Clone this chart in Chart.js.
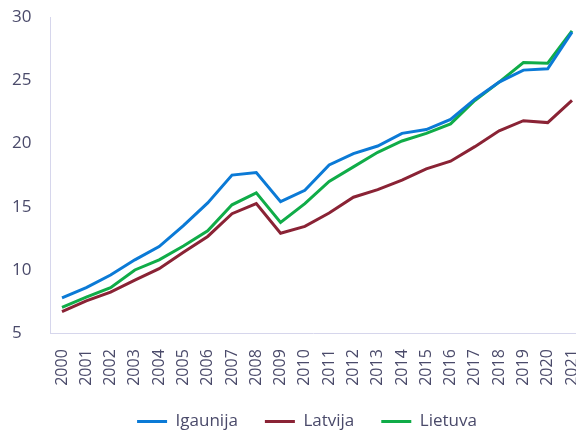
<!DOCTYPE html>
<html>
<head>
<meta charset="utf-8">
<script src="https://cdn.jsdelivr.net/npm/chart.js@4"></script>
<style>
  html, body { margin: 0; padding: 0; background: #ffffff; }
  #wrap { width: 576px; height: 431px; position: relative; }
</style>
</head>
<body>
<div id="wrap"><canvas id="c" width="576" height="431"></canvas></div>
<script>
const years = [2000, 2001, 2002, 2003, 2004, 2005, 2006, 2007, 2008, 2009, 2010,
               2011, 2012, 2013, 2014, 2015, 2016, 2017, 2018, 2019, 2020, 2021];
const igaunija = [7.8, 8.6, 9.6, 10.8, 11.85, 13.5, 15.3, 17.5, 17.7, 15.4, 16.3,
                  18.3, 19.2, 19.8, 20.8, 21.1, 21.9, 23.5, 24.85, 25.8, 25.9, 28.8];
const latvija = [6.7, 7.55, 8.25, 9.2, 10.1, 11.4, 12.65, 14.45, 15.25, 12.9, 13.45,
                 14.5, 15.75, 16.35, 17.1, 18.0, 18.6, 19.75, 21.0, 21.8, 21.65, 23.4];
const lietuva = [7.05, 7.85, 8.6, 10.0, 10.8, 11.9, 13.1, 15.15, 16.1, 13.75, 15.25,
                 17.0, 18.15, 19.3, 20.2, 20.8, 21.55, 23.4, 24.85, 26.4, 26.35, 28.9];
const seriesNames = ['Igaunija', 'Latvija', 'Lietuva'];
const yTicks = [5, 10, 15, 20, 25, 30];

const colors = ['#0b7ad6', '#8a2335', '#10ac48'];
const toPts = arr => years.map((y, i) => ({ x: y, y: arr[i] }));

const textColor = '#4a4a6a';
const axisColor = '#d6d6ec';

const legendShift = {
  id: 'legendShift',
  afterLayout(chart) {
    const l = chart.legend;
    if (l) { l.left += 13; l.right += 13; }
  }
};

new Chart(document.getElementById('c'), {
  type: 'line',
  data: {
    datasets: [igaunija, latvija, lietuva].map((arr, i) => ({
      label: seriesNames[i],
      data: toPts(arr),
      borderColor: colors[i],
      backgroundColor: colors[i],
      borderWidth: 3,
      pointRadius: 0,
      tension: 0,
      fill: false
    }))
  },
  plugins: [legendShift],
  options: {
    responsive: false,
    animation: false,
    events: [],
    layout: { padding: { left: 12, right: 0, top: 17, bottom: -9 } },
    plugins: {
      tooltip: { enabled: false },
      legend: {
        position: 'bottom',
        title: { display: true, text: '', font: { size: 1 }, padding: { top: 0, bottom: -9 } },
        labels: {
          color: textColor,
          font: { family: 'Open Sans', size: 17 },
          boxWidth: 30,
          boxHeight: 3,
          padding: 27,
          generateLabels: chart => Chart.defaults.plugins.legend.labels.generateLabels(chart)
            .map(l => Object.assign(l, { lineWidth: 0 }))
        }
      }
    },
    scales: {
      x: {
        type: 'linear',
        min: 1999.506,
        max: 2021.165,
        afterBuildTicks: s => { s.ticks = years.map(v => ({ value: v })); },
        afterFit: s => { s.paddingLeft = 0; s.paddingRight = 0; },
        grid: { display: false },
        border: { display: true, color: axisColor, width: 1 },
        ticks: {
          color: textColor,
          font: { family: 'Open Sans', size: 16 },
          minRotation: 90,
          maxRotation: 90,
          autoSkip: false,
          padding: 8,
          callback: v => String(v)
        }
      },
      y: {
        min: 5,
        max: 30,
        afterBuildTicks: s => { s.ticks = yTicks.map(v => ({ value: v })); },
        afterFit: s => { s.paddingTop = 0; s.paddingBottom = 0; s.width = 38; },
        grid: { display: false },
        border: { display: true, color: axisColor, width: 1 },
        ticks: {
          color: textColor,
          font: { family: 'Open Sans', size: 17 },
          crossAlign: 'far',
          padding: 18
        }
      }
    }
  }
});
</script>
</body>
</html>
